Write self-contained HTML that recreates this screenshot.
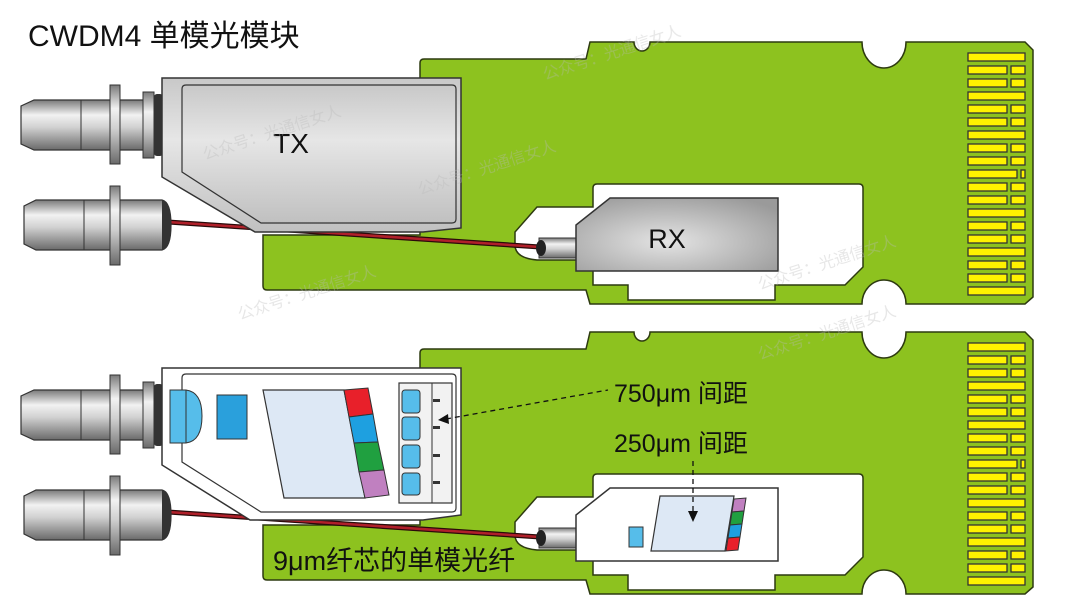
<!DOCTYPE html>
<html><head><meta charset="utf-8"><style>
html,body{margin:0;padding:0;background:#fff;}
svg{display:block;}
text{font-family:"Liberation Sans","Noto Sans CJK SC",sans-serif;}
</style></head><body>
<svg width="1080" height="607" viewBox="0 0 1080 607" xmlns="http://www.w3.org/2000/svg">
<defs>
<linearGradient id="cyl" x1="0" y1="0" x2="0" y2="1">
<stop offset="0" stop-color="#7a7a7a"/><stop offset="0.3" stop-color="#f2f2f2"/><stop offset="0.55" stop-color="#d0d0d0"/><stop offset="1" stop-color="#6a6a6a"/>
</linearGradient>
<linearGradient id="txg" x1="0" y1="0" x2="0" y2="1">
<stop offset="0" stop-color="#c8c8c8"/><stop offset="0.4" stop-color="#e6e6e6"/><stop offset="1" stop-color="#c0c0c0"/>
</linearGradient>
<radialGradient id="rxg" cx="0.45" cy="0.6" r="0.7">
<stop offset="0" stop-color="#e4e4e4"/><stop offset="1" stop-color="#9a9a9a"/>
</radialGradient>
<g id="board">
<path d="M420,63 Q420,59 424,59 L586,59 L590,42 L634,42 A8,9 0 0 0 650,42 L862,42 A22,26 0 0 0 906,42 L1025,42 L1033,50 L1033,297 L1025,304 L906,304 A22,24 0 0 0 862,304 L590,304 L586,290 L267,290 Q263,290 263,286 L263,235 L420,235 Z" fill="#8dc21f" stroke="#2d3a10" stroke-width="1.5"/>
<path d="M593,188 Q593,184 597,184 L859,184 Q863,184 863,188 L863,267 L845,285 L775,285 L775,300 L628,300 L628,285 L593,285 L593,260 L537,260 Q515,258 515,245 L515,232 L537,207 L593,207 Z" fill="#fff" stroke="#2d3a10" stroke-width="1.5"/>
<g fill="#fff200" stroke="#333" stroke-width="1.3">
<rect x="968" y="53" width="57" height="8"/>
<rect x="968" y="66" width="39" height="8"/><rect x="1011" y="66" width="14" height="8"/>
<rect x="968" y="79" width="39" height="8"/><rect x="1011" y="79" width="14" height="8"/>
<rect x="968" y="92" width="57" height="8"/>
<rect x="968" y="105" width="39" height="8"/><rect x="1011" y="105" width="14" height="8"/>
<rect x="968" y="118" width="39" height="8"/><rect x="1011" y="118" width="14" height="8"/>
<rect x="968" y="131" width="57" height="8"/>
<rect x="968" y="144" width="39" height="8"/><rect x="1011" y="144" width="14" height="8"/>
<rect x="968" y="157" width="39" height="8"/><rect x="1011" y="157" width="14" height="8"/>
<rect x="968" y="170" width="49" height="8"/><rect x="1021" y="170" width="4" height="8"/>
<rect x="968" y="183" width="39" height="8"/><rect x="1011" y="183" width="14" height="8"/>
<rect x="968" y="196" width="39" height="8"/><rect x="1011" y="196" width="14" height="8"/>
<rect x="968" y="209" width="57" height="8"/>
<rect x="968" y="222" width="39" height="8"/><rect x="1011" y="222" width="14" height="8"/>
<rect x="968" y="235" width="39" height="8"/><rect x="1011" y="235" width="14" height="8"/>
<rect x="968" y="248" width="57" height="8"/>
<rect x="968" y="261" width="39" height="8"/><rect x="1011" y="261" width="14" height="8"/>
<rect x="968" y="274" width="39" height="8"/><rect x="1011" y="274" width="14" height="8"/>
<rect x="968" y="287" width="57" height="8"/>
</g>
<line x1="168" y1="222" x2="540" y2="247" stroke="#2a0a0a" stroke-width="5"/>
<line x1="168" y1="222" x2="540" y2="247" stroke="#b0202a" stroke-width="2.5"/>
<rect x="539" y="238" width="38" height="20" fill="url(#cyl)" stroke="#333" stroke-width="1"/>
<ellipse cx="541" cy="248" rx="5" ry="8" fill="#222"/>
<path d="M34,100 L160,100 L160,150 L34,150 L21,144 L21,106 Z" fill="url(#cyl)" stroke="#333" stroke-width="1.2"/>
<line x1="81" y1="100" x2="81" y2="150" stroke="#333"/>
<rect x="110" y="85" width="10" height="79" fill="url(#cyl)" stroke="#333"/>
<rect x="143" y="92" width="11" height="66" fill="url(#cyl)" stroke="#333"/>
<rect x="154" y="94" width="9" height="62" rx="3" fill="#333"/>
<path d="M36,200 L162,200 Q171,202 171,225 Q171,248 162,250 L36,250 L24,244 L24,206 Z" fill="url(#cyl)" stroke="#333" stroke-width="1.2"/>
<path d="M162,200 Q171,202 171,225 Q171,248 162,250 Z" fill="#333"/>
<line x1="84" y1="200" x2="84" y2="250" stroke="#333"/>
<rect x="110" y="186" width="10" height="79" fill="url(#cyl)" stroke="#333"/>
</g>
</defs>

<text x="28" y="46" font-size="30" fill="#111">CWDM4 单模光模块</text>

<use href="#board"/>
<polygon points="162,78 461,78 461,228 423,232 255,232 162,177" fill="url(#txg)" stroke="#333" stroke-width="1.5"/>
<path d="M186,85 L452,85 Q456,85 456,89 L456,219 Q456,223 452,223 L261,223 L182,172 L182,89 Q182,85 186,85 Z" fill="url(#txg)" stroke="#333" stroke-width="1.2"/>
<text x="291" y="153" font-size="28" text-anchor="middle" fill="#111">TX</text>
<polygon points="610,198 778,198 778,271 576,271 576,225" fill="url(#rxg)" stroke="#333" stroke-width="1.5"/>
<text x="667" y="248" font-size="27" text-anchor="middle" fill="#111">RX</text>

<use href="#board" y="290"/>
<polygon points="162,368 461,368 461,515 423,520 250,520 162,465" fill="#fff" stroke="#333" stroke-width="1.5"/>
<path d="M186,374 L452,374 Q456,374 456,378 L456,508 Q456,512 452,512 L261,512 L182,462 L182,378 Q182,374 186,374 Z" fill="#fff" stroke="#333" stroke-width="1.2"/>
<path d="M170,390 L186,390 Q202,392 202,416 Q202,441 186,443 L170,443 Z" fill="#56bdea" stroke="#333" stroke-width="1"/>
<line x1="186" y1="390" x2="186" y2="443" stroke="#333"/>
<rect x="217" y="395" width="30" height="44" fill="#2aa0dc" stroke="#333" stroke-width="1"/>
<polygon points="263,390 344,390 365,498 284,498" fill="#dde8f5" stroke="#333" stroke-width="1.2"/>
<polygon points="344,390 368,388 373,414 349,417" fill="#e8202a" stroke="#333"/>
<polygon points="349,417 373,414 378,442 354,443" fill="#1ea0e0" stroke="#333"/>
<polygon points="354,443 378,442 384,470 359,472" fill="#20a040" stroke="#333"/>
<polygon points="359,472 384,470 389,495 365,498" fill="#c080c0" stroke="#333"/>
<rect x="399" y="383" width="53" height="120" fill="#f2f2f2" stroke="#333" stroke-width="1.2"/>
<line x1="432" y1="383" x2="432" y2="503" stroke="#333"/>
<g fill="#56bdea" stroke="#333">
<rect x="402" y="390" width="18" height="23" rx="3"/><rect x="402" y="417" width="18" height="23" rx="3"/>
<rect x="402" y="445" width="18" height="23" rx="3"/><rect x="402" y="473" width="18" height="22" rx="3"/>
</g>
<g fill="#333"><rect x="433" y="399" width="7" height="3"/><rect x="433" y="426" width="7" height="3"/><rect x="433" y="454" width="7" height="3"/><rect x="433" y="481" width="7" height="3"/></g>
<line x1="446" y1="419" x2="608" y2="390" stroke="#111" stroke-width="1.3" stroke-dasharray="5,4"/>
<polygon points="438,420 448,414 449,424" fill="#111"/>
<text x="614" y="402" font-size="25" fill="#111">750μm 间距</text>
<text x="614" y="452" font-size="25" fill="#111">250μm 间距</text>
<polygon points="610,488 778,488 778,561 576,561 576,515" fill="#fff" stroke="#333" stroke-width="1.5"/>
<polygon points="660,496 734,496 725,551 651,551" fill="#dde8f5" stroke="#333" stroke-width="1.2"/>
<polygon points="734,499 746,498 744,511 732,512" fill="#c080c0" stroke="#333"/>
<polygon points="732,512 744,511 742,524 730,525" fill="#20a040" stroke="#333"/>
<polygon points="730,525 742,524 740,537 728,538" fill="#1ea0e0" stroke="#333"/>
<polygon points="728,538 740,537 738,550 726,551" fill="#e8202a" stroke="#333"/>
<rect x="629" y="527" width="14" height="20" fill="#56bdea" stroke="#333"/>
<line x1="693" y1="461" x2="693" y2="512" stroke="#111" stroke-width="1.3" stroke-dasharray="5,4"/>
<polygon points="688,511 698,511 693,522" fill="#111"/>
<text x="273" y="570" font-size="27" fill="#111">9μm纤芯的单模光纤</text>

<g fill="#bbb" opacity="0.35" font-size="16">
<text x="205" y="160" transform="rotate(-18 205 160)">公众号：光通信女人</text>
<text x="420" y="195" transform="rotate(-18 420 195)">公众号：光通信女人</text>
<text x="545" y="80" transform="rotate(-18 545 80)">公众号：光通信女人</text>
<text x="760" y="290" transform="rotate(-18 760 290)">公众号：光通信女人</text>
<text x="240" y="320" transform="rotate(-18 240 320)">公众号：光通信女人</text>
<text x="760" y="360" transform="rotate(-18 760 360)">公众号：光通信女人</text>
</g>
</svg>
</body></html>
